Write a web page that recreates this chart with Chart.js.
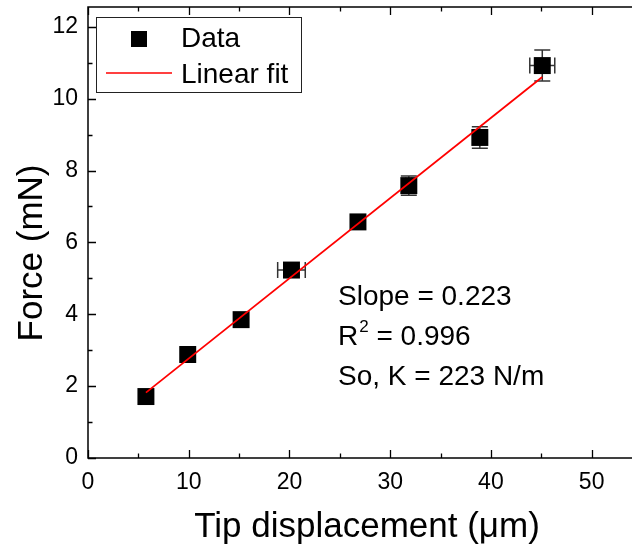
<!DOCTYPE html>
<html>
<head>
<meta charset="utf-8">
<script src="https://cdn.jsdelivr.net/npm/chart.js@4/dist/chart.umd.min.js"></script>
<style>
  html, body { margin: 0; padding: 0; background: #fff; overflow: hidden; }
  #wrap { width: 632px; height: 546px; overflow: hidden; }
</style>
</head>
<body>
<div id="wrap"><canvas id="myChart" width="642" height="546"></canvas></div>
<script>
// measured tip displacement (um) and force (mN), with error bars
const displacement = [5.75, 9.9, 15.2, 20.2, 26.8, 31.85, 38.9, 45.1];
const force = [1.71, 2.88, 3.85, 5.23, 6.57, 7.58, 8.92, 10.92];
const xError = [0, 0, 0, 1.37, 0, 0.3, 0, 1.24];
const yError = [0, 0, 0, 0.1, 0, 0.27, 0.3, 0.43];

// linear fit end points
const fitX = [5.75, 45.1];
const fitY = [1.82, 10.6];

const xTicks = [0, 10, 20, 30, 40, 50];
const yTicks = [0, 2, 4, 6, 8, 10, 12];
const fitNotes = ['Slope = 0.223', '0.996', 'So, K = 223 N/m'];

const FONT = '"Liberation Sans", Arial, sans-serif';

const points = displacement.map((x, i) => ({ x: x, y: force[i] }));
const fitLine = fitX.map((x, i) => ({ x: x, y: fitY[i] }));

// error bars, frame, inner ticks, titles, legend and fit notes
const decor = {
  id: 'decor',
  beforeDatasetsDraw(chart) {
    const c = chart.ctx, xs = chart.scales.x, ys = chart.scales.y;
    c.save();
    c.strokeStyle = '#333';
    c.lineWidth = 1.5;
    const cap = 8;
    points.forEach((p, i) => {
      const px = xs.getPixelForValue(p.x), py = ys.getPixelForValue(p.y);
      if (yError[i]) {
        const t = ys.getPixelForValue(p.y + yError[i]), b = ys.getPixelForValue(p.y - yError[i]);
        c.beginPath();
        c.moveTo(px, t); c.lineTo(px, b);
        c.moveTo(px - cap, t); c.lineTo(px + cap, t);
        c.moveTo(px - cap, b); c.lineTo(px + cap, b);
        c.stroke();
      }
      if (xError[i]) {
        const l = xs.getPixelForValue(p.x - xError[i]), r = xs.getPixelForValue(p.x + xError[i]);
        c.beginPath();
        c.moveTo(l, py); c.lineTo(r, py);
        c.moveTo(l, py - cap); c.lineTo(l, py + cap);
        c.moveTo(r, py - cap); c.lineTo(r, py + cap);
        c.stroke();
      }
    });
    c.restore();
  },
  afterDraw(chart) {
    const c = chart.ctx, a = chart.chartArea, xs = chart.scales.x, ys = chart.scales.y;
    c.save();
    c.strokeStyle = '#000';
    c.lineWidth = 1.5;
    c.strokeRect(a.left, a.top, a.right - a.left, a.bottom - a.top);

    // ticks point into the plot on all four sides
    c.lineWidth = 1.3;
    c.beginPath();
    for (let v = 0; v <= xs.max; v += 5) {
      const px = Math.round(xs.getPixelForValue(v)) + 0.5;
      const len = v % 10 === 0 ? 8 : 4.5;
      c.moveTo(px, a.bottom); c.lineTo(px, a.bottom - len);
      c.moveTo(px, a.top); c.lineTo(px, a.top + len);
    }
    for (let v = 0; v <= ys.max; v += 1) {
      const py = Math.round(ys.getPixelForValue(v)) + 0.5;
      const len = v % 2 === 0 ? 8 : 4.5;
      c.moveTo(a.left, py); c.lineTo(a.left + len, py);
      c.moveTo(a.right, py); c.lineTo(a.right - len, py);
    }
    c.stroke();

    // axis titles
    c.fillStyle = '#000';
    c.font = '35px ' + FONT;
    c.textAlign = 'center';
    c.textBaseline = 'alphabetic';
    c.fillText('Tip displacement (\u03bcm)', 367, 537);
    c.save();
    c.translate(42, 253);
    c.rotate(-Math.PI / 2);
    c.fillText('Force (mN)', 0, 0);
    c.restore();

    // legend
    c.lineWidth = 1;
    c.strokeStyle = '#222';
    c.strokeRect(96.5, 17.5, 205, 75);
    c.fillStyle = '#000';
    c.fillRect(131, 31, 16, 16);
    c.strokeStyle = '#ff0000';
    c.lineWidth = 1.5;
    c.beginPath();
    c.moveTo(106, 73); c.lineTo(172, 73);
    c.stroke();
    c.font = '28px ' + FONT;
    c.textAlign = 'left';
    c.fillText('Data', 181, 47);
    c.fillText('Linear fit', 181, 83);

    // fit notes
    c.fillText(fitNotes[0], 338, 305);
    c.fillText('R', 338, 345);
    const rw = c.measureText('R').width;
    c.font = '17px ' + FONT;
    c.fillText('2', 338 + rw + 1, 332);
    const sw = c.measureText('2').width;
    c.font = '28px ' + FONT;
    c.fillText(' = ' + fitNotes[1], 338 + rw + sw + 1, 345);
    c.fillText(fitNotes[2], 338, 385);
    c.restore();
  }
};

const ctx = document.getElementById('myChart');

new Chart(ctx, {
  type: 'scatter',
  data: {
    datasets: [{
      label: 'Linear fit',
      data: fitLine,
      showLine: true,
      borderColor: '#ff0000',
      borderWidth: 1.8,
      pointRadius: 0,
      fill: false,
      order: 0
    }, {
      label: 'Data',
      data: points,
      pointStyle: 'rect',
      pointRadius: 12,
      backgroundColor: '#000',
      borderColor: '#000',
      borderWidth: 0,
      order: 1
    }]
  },
  options: {
    responsive: false,
    animation: false,
    layout: { autoPadding: false, padding: { top: 7, right: 0, left: 0, bottom: 0 } },
    plugins: { legend: { display: false }, tooltip: { enabled: false } },
    scales: {
      x: {
        type: 'linear',
        min: 0,
        max: 55,
        grid: { display: false },
        border: { display: false },
        afterFit: (s) => { s.height = 88; s.paddingLeft = 0; s.paddingRight = 0; },
        afterBuildTicks: (s) => { s.ticks = xTicks.map((v) => ({ value: v })); },
        ticks: { color: '#000', padding: 3, maxRotation: 0, font: { size: 23, family: FONT } }
      },
      y: {
        type: 'linear',
        min: 0,
        max: 12.55,
        grid: { display: false },
        border: { display: false },
        afterFit: (s) => { s.width = 88; s.paddingTop = 0; s.paddingBottom = 0; },
        afterBuildTicks: (s) => { s.ticks = yTicks.map((v) => ({ value: v })); },
        ticks: { color: '#000', padding: 2, font: { size: 23, family: FONT } }
      }
    }
  },
  plugins: [decor]
});
</script>
</body>
</html>
